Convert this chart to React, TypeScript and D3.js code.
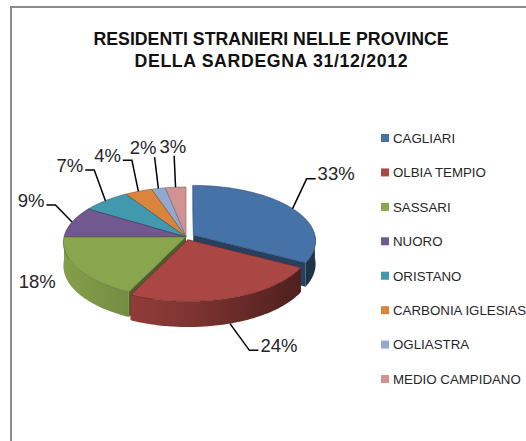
import React from 'react';
import * as d3 from 'd3';

// data
const provinces = [
  'CAGLIARI',
  'OLBIA TEMPIO',
  'SASSARI',
  'NUORO',
  'ORISTANO',
  'CARBONIA IGLESIAS',
  'OGLIASTRA',
  'MEDIO CAMPIDANO',
];
const shares = [33, 24, 18, 9, 7, 4, 2, 3];
const sliceColors = ['#4572A7', '#AA4643', '#89A54E', '#71588F', '#4198AF', '#DB843D', '#93A9CF', '#D19392'];
const titleLines = ['RESIDENTI STRANIERI NELLE PROVINCE', 'DELLA SARDEGNA 31/12/2012'];

// exploded slices (fraction of radius)
const explode: Record<string, number> = { CAGLIARI: 0.07, 'OLBIA TEMPIO': 0.05 };

const W = 526;
const H = 441;
const cx = 186;
const cy = 237;
const rx = 122;
const ry = 55;
const depth = 23;
const persp = 0.1;
const labelFont = 18.5;
const FONT = "'Liberation Sans', Arial, sans-serif";

type Pt = [number, number];

// 3D -> screen, theta clockwise from 12 o'clock, r radius fraction, h 0=top 1=bottom
function project(theta: number, r: number, h: number, off: Pt): Pt {
  const X = r * Math.sin(theta) + off[0];
  const Z = -r * Math.cos(theta) + off[1];
  const s = 1 / (1 - persp * Z);
  return [cx + X * rx * s, cy + (Z * ry + h * depth) * s];
}

function arcPts(a0: number, a1: number, h: number, off: Pt): Pt[] {
  const n = Math.max(2, Math.ceil(Math.abs(a1 - a0) / (Math.PI / 180)));
  return d3.range(n + 1).map((i) => project(a0 + ((a1 - a0) * i) / n, 1, h, off));
}

const line = d3.line<Pt>();

export default function App() {
  const pie = d3.pie<number>().sort(null).startAngle(0).endAngle(2 * Math.PI);
  const arcs = pie(shares);

  const slices = arcs.map((a, i) => {
    const mid = (a.startAngle + a.endAngle) / 2;
    const k = explode[provinces[i]] || 0;
    const off: Pt = [k * Math.sin(mid), -k * Math.cos(mid)];
    const center = project(0, 0, 0, off);
    const top = line([center, ...arcPts(a.startAngle, a.endAngle, 0, off)]) + 'Z';
    const v0 = Math.max(a.startAngle, Math.PI / 2);
    const v1 = Math.min(a.endAngle, (3 * Math.PI) / 2);
    const side =
      v0 < v1 ? line([...arcPts(v0, v1, 0, off), ...arcPts(v1, v0, 1, off)]) + 'Z' : null;
    const walls = [a.startAngle, a.endAngle].map(
      (t) =>
        line([project(t, 0, 0, off), project(t, 1, 0, off), project(t, 1, 1, off), project(t, 0, 1, off)]) + 'Z'
    );
    return { i, mid, off, top, side, walls, z: -Math.cos(mid) };
  });

  const order = [...slices].sort((a, b) => a.z - b.z);

  // labels: back slices sit above the rim, front slices below the wall
  const labels = slices.map((s) => {
    const front = s.z > 0;
    const sin = Math.sin(s.mid);
    const dir = sin >= 0 ? 1 : -1;
    let mode: 'plain' | 'top' | 'side' = 'side';
    if (front && Math.abs(sin) > 0.8) mode = 'plain';
    else if (!front && Math.abs(sin) < 0.35) mode = 'top';
    const start = project(s.mid, 1, front ? 1 : 0, s.off);
    const r = front && mode !== 'plain' ? 1.4 : 1.15;
    const h = front ? s.z : -1.2 * Math.min(1, -s.z / 0.5);
    const e = project(s.mid, r, h, s.off);
    const text = `${shares[s.i]}%`;
    const w = labelFont * (0.556 * (text.length - 1) + 0.889);
    // text box for top mode: right edge near leader end
    return { ...s, start, e, dir, text, w, mode, x1: e[0] + 7 - w, x2: e[0] + 7 };
  });

  // keep top labels apart
  const tops = labels.filter((l) => l.mode === 'top').sort((a, b) => a.x1 - b.x1);
  for (let j = 1; j < tops.length; j++) {
    const a = tops[j - 1];
    const b = tops[j];
    const overlap = a.x2 + 3 - b.x1;
    if (overlap > 0) {
      a.x1 -= overlap / 2;
      a.x2 -= overlap / 2;
      b.x1 += overlap / 2;
      b.x2 += overlap / 2;
    }
  }

  const legendY = d3.scalePoint<string>().domain(provinces).range([138, 379]);
  const capHalf = (labelFont * 0.716) / 2;

  return (
    <svg
      width={W}
      height={H}
      style={{ position: 'absolute', left: 0, top: 0, background: '#fff' }}
      fontFamily={FONT}
    >
      <defs>
        {sliceColors.map((c, i) => {
          const col = d3.color(c)!;
          return (
            <linearGradient key={i} id={`side${i}`} gradientUnits="userSpaceOnUse" x1={cx - rx} x2={cx + rx} y1={0} y2={0}>
              <stop offset="0" stopColor={col.darker(0.1).toString()} />
              <stop offset="0.5" stopColor={col.darker(0.8).toString()} />
              <stop offset="1" stopColor={col.darker(2.3).toString()} />
            </linearGradient>
          );
        })}
      </defs>
      <rect width={W} height={H} fill="#fff" />
      <path d={`M11,${H} V7 H${W}`} fill="none" stroke="#8c8c8c" strokeWidth={2} />

      {titleLines.map((t, i) => (
        <text
          key={t}
          x={271}
          y={45 + i * 22}
          textAnchor="middle"
          fontWeight="bold"
          fontSize={17.7}
          fill="#111"
          textLength={i === 0 ? 355 : 273}
        >
          {t}
        </text>
      ))}

      {/* radial walls */}
      {order.map((s) =>
        s.walls.map((d, j) => (
          <path key={`w${s.i}-${j}`} d={d} fill={d3.color(sliceColors[s.i])!.darker(1.6).toString()} />
        ))
      )}
      {/* outer walls */}
      {order.map((s) =>
        s.side ? <path key={`s${s.i}`} d={s.side} fill={`url(#side${s.i})`} /> : null
      )}
      {/* top faces */}
      {order.map((s) => (
        <path
          key={`t${s.i}`}
          d={s.top}
          fill={sliceColors[s.i]}
          stroke={d3.color(sliceColors[s.i])!.darker(1.2).toString()}
          strokeWidth={0.6}
          strokeLinejoin="round"
        />
      ))}

      {/* data labels */}
      {labels.map((l) => {
        if (l.mode === 'plain') {
          return (
            <text
              key={`l${l.i}`}
              x={l.e[0] + l.dir * 4}
              y={l.e[1] - 5 + capHalf}
              textAnchor={l.dir > 0 ? 'start' : 'end'}
              fontSize={labelFont}
              fill="#262626"
            >
              {l.text}
            </text>
          );
        }
        if (l.mode === 'top') {
          return (
            <g key={`l${l.i}`}>
              <path d={line([l.start, l.e])!} stroke="#000" strokeWidth={1.5} fill="none" />
              <text x={(l.x1 + l.x2) / 2} y={l.e[1] - 3} textAnchor="middle" fontSize={labelFont} fill="#262626">
                {l.text}
              </text>
            </g>
          );
        }
        const tail: Pt = [l.e[0] + l.dir * 9, l.e[1]];
        return (
          <g key={`l${l.i}`}>
            <path d={line([l.start, l.e, tail])!} stroke="#000" strokeWidth={1.5} fill="none" />
            <text
              x={tail[0] + l.dir * 2}
              y={l.e[1] - 5 + capHalf}
              textAnchor={l.dir > 0 ? 'start' : 'end'}
              fontSize={labelFont}
              fill="#262626"
            >
              {l.text}
            </text>
          </g>
        );
      })}

      {/* legend */}
      {provinces.map((p, i) => (
        <g key={p} transform={`translate(381,${legendY(p)})`}>
          <rect x={0} y={-4} width={8} height={8} fill={sliceColors[i]} />
          <text x={12} y={4.8} fontSize={13.3} fill="#262626">
            {p}
          </text>
        </g>
      ))}
    </svg>
  );
}
